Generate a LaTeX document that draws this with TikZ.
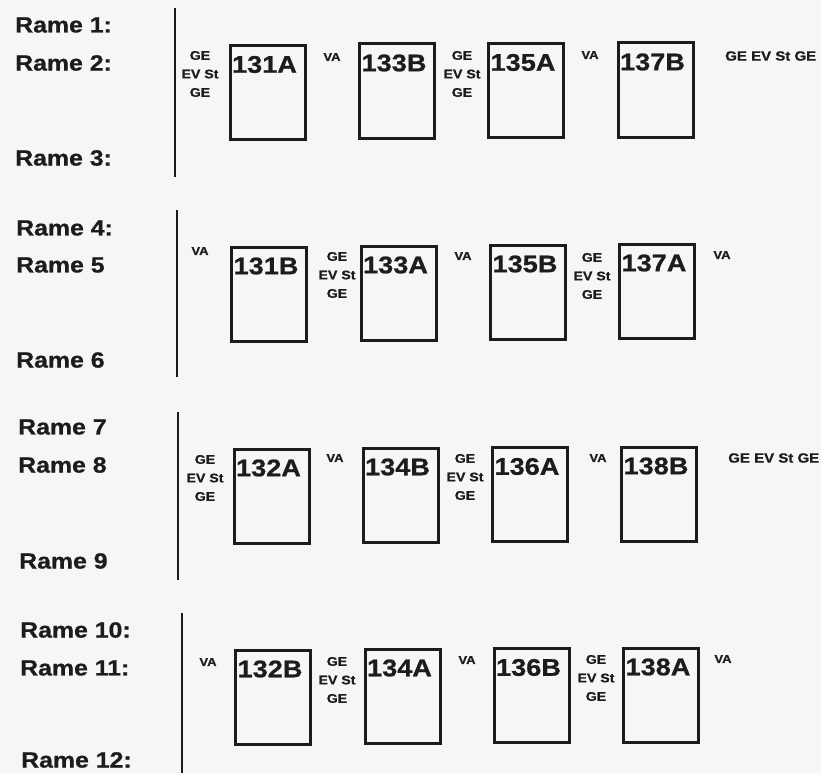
\documentclass[tikz,border=0pt]{standalone}
\usepackage{fontspec}
\setmainfont{Liberation Sans}[FakeStretch=1.13, BoldFeatures={FakeBold=0.8}]
\definecolor{ink}{RGB}{28,28,28}
\definecolor{paper}{RGB}{246,246,246}
\tikzset{
  rame/.style={anchor=west, inner sep=0pt, text=ink, font=\fontsize{22}{24}\selectfont\bfseries},
  wagon/.style={draw=ink, line width=3pt, minimum width=75pt, minimum height=94pt, inner sep=0pt, outer sep=0pt},
  wlabel/.style={inner sep=0pt, text=ink, font=\fontsize{24}{26}\selectfont\bfseries},
  stack/.style={inner sep=0pt, align=center, text=ink, font=\fontsize{12.5}{18.5}\selectfont\bfseries},
  rowtag/.style={anchor=west, inner sep=0pt, text=ink, font=\fontsize{13.3}{15}\selectfont\bfseries},
  tag/.style={inner sep=0pt, text=ink, font=\fontsize{11.5}{12}\selectfont\bfseries},
  bar/.style={draw=ink, line width=2.7pt}
}
\newcommand{\wagonbox}[4]{%
  \node[wagon] (w#1) at (#2,#3) {};
  \node[wlabel] (l#1) at ([xshift=-3pt,yshift=-19pt]w#1.north) {#4};
}
\begin{document}
\begin{tikzpicture}[x=1pt,y=-1pt]
\useasboundingbox[fill=paper] (0,0) rectangle (821,773);

% ---- group 1
\node[rame] (r1) at (15,25) {Rame 1:};
\node[rame] (r2) at (15,63) {Rame 2:};
\node[rame] (r3) at (15,158) {Rame 3:};
\coordinate (g1t) at (175,8); \coordinate (g1b) at (175,177);
\draw[bar] (g1t) -- (g1b);
\node[stack] (s11) at (200,74) {GE\\EV St\\GE};
\wagonbox{131A}{267.5}{92.5}{131A}
\node[tag] (t11) at (332,57) {VA};
\wagonbox{133B}{397}{91}{133B}
\node[stack] (s12) at (462,74) {GE\\EV St\\GE};
\wagonbox{135A}{526}{90.5}{135A}
\node[tag] (t12) at (590,55) {VA};
\wagonbox{137B}{655.5}{90}{137B}
\node[rowtag] (s13) at (725,56) {GE EV St GE};

% ---- group 2
\node[rame] (r4) at (16,228) {Rame 4:};
\node[rame] (r5) at (16,265) {Rame 5};
\node[rame] (r6) at (16,360) {Rame 6};
\coordinate (g2t) at (177,210); \coordinate (g2b) at (177,377);
\draw[bar] (g2t) -- (g2b);
\node[tag] (t21) at (200,251) {VA};
\wagonbox{131B}{269}{294}{131B}
\node[stack] (s21) at (337,275) {GE\\EV St\\GE};
\wagonbox{133A}{398.5}{293}{133A}
\node[tag] (t22) at (463,256) {VA};
\wagonbox{135B}{528}{292}{135B}
\node[stack] (s22) at (592,276) {GE\\EV St\\GE};
\wagonbox{137A}{657}{291}{137A}
\node[tag] (t23) at (722,255) {VA};

% ---- group 3
\node[rame] (r7) at (18,427) {Rame 7};
\node[rame] (r8) at (18,465) {Rame 8};
\node[rame] (r9) at (19,561) {Rame 9};
\coordinate (g3t) at (178,412); \coordinate (g3b) at (178,580);
\draw[bar] (g3t) -- (g3b);
\node[stack] (s31) at (205,478) {GE\\EV St\\GE};
\wagonbox{132A}{271.5}{496}{132A}
\node[tag] (t31) at (335,458) {VA};
\wagonbox{134B}{400.5}{495}{134B}
\node[stack] (s32) at (465,477) {GE\\EV St\\GE};
\wagonbox{136A}{530}{494.5}{136A}
\node[tag] (t32) at (598,458) {VA};
\wagonbox{138B}{659}{494}{138B}
\node[rowtag] (s33) at (728,458) {GE EV St GE};

% ---- group 4
\node[rame] (r10) at (20,630) {Rame 10:};
\node[rame] (r11) at (20,668) {Rame 11:};
\node[rame] (r12) at (21,760) {Rame 12:};
\coordinate (g4t) at (182,613); \coordinate (g4b) at (182,773);
\draw[bar] (g4t) -- (g4b);
\node[tag] (t41) at (208,662) {VA};
\wagonbox{132B}{273}{697}{132B}
\node[stack] (s41) at (337,680) {GE\\EV St\\GE};
\wagonbox{134A}{402.5}{696}{134A}
\node[tag] (t42) at (467,660) {VA};
\wagonbox{136B}{531.5}{695.5}{136B}
\node[stack] (s42) at (596,678) {GE\\EV St\\GE};
\wagonbox{138A}{661}{695}{138A}
\node[tag] (t43) at (723,659) {VA};
\end{tikzpicture}
\end{document}
